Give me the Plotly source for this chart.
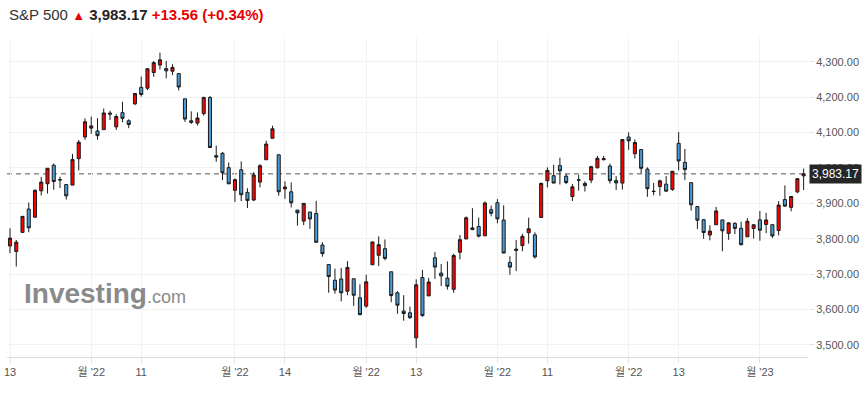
import plotly.graph_objects as go

# ---------------- data (S&P 500 daily) ----------------
dates = (
    ["2022-07-%02d" % d for d in [13, 14, 15, 18, 19, 20, 21, 22, 25, 26, 27, 28, 29]]
    + ["2022-08-%02d" % d for d in [1, 2, 3, 4, 5, 8, 9, 10, 11, 12, 15, 16, 17, 18, 19, 22, 23, 24, 25, 26, 29, 30, 31]]
    + ["2022-09-%02d" % d for d in [1, 2, 6, 7, 8, 9, 12, 13, 14, 15, 16, 19, 20, 21, 22, 23, 26, 27, 28, 29, 30]]
    + ["2022-10-%02d" % d for d in [3, 4, 5, 6, 7, 10, 11, 12, 13, 14, 17, 18, 19, 20, 21, 24, 25, 26, 27, 28, 31]]
    + ["2022-11-%02d" % d for d in [1, 2, 3, 4, 7, 8, 9, 10, 11, 14, 15, 16, 17, 18, 21, 22, 23, 25, 28, 29, 30]]
    + ["2022-12-%02d" % d for d in [1, 2, 5, 6, 7, 8, 9, 12, 13, 14, 15, 16, 19, 20, 21, 22, 23, 27, 28, 29, 30]]
    + ["2023-01-%02d" % d for d in [3, 4, 5, 6, 9, 10, 11, 12]]
)

opens = [
    3779.67, 3763.99, 3818.00, 3883.79, 3860.73, 3935.32, 3955.47, 4007.66, 3965.72, 3953.22, 3951.43, 4026.13, 4087.33,
    4112.38, 4104.21, 4107.96, 4154.85, 4115.87, 4155.93, 4133.11, 4181.02, 4227.40, 4225.02, 4269.37, 4290.46, 4280.40,
    4273.13, 4266.31, 4195.08, 4133.09, 4126.55, 4153.26, 4198.74, 4034.58, 4041.25, 4000.67,
    3936.73, 3994.66, 3930.89, 3909.43, 3959.94, 4022.94, 4083.67, 4037.12, 3940.73, 3932.41, 3880.95, 3849.91, 3875.23,
    3871.40, 3782.36, 3727.14, 3682.72, 3686.44, 3651.94, 3687.01, 3633.48,
    3609.78, 3726.46, 3753.25, 3771.97, 3706.74, 3647.51, 3595.86, 3590.83, 3520.37, 3690.41, 3638.65, 3746.26, 3703.11,
    3689.05, 3657.10, 3762.01, 3799.44, 3825.97, 3834.69, 3808.26, 3881.85,
    3901.79, 3852.90, 3733.25, 3766.98, 3780.71, 3817.02, 3810.94, 3859.89, 3963.72, 3977.97, 4006.41, 3976.82, 3919.26,
    3966.39, 3956.23, 3965.51, 4000.30, 4023.34, 4005.36, 3964.19, 3957.18,
    4087.14, 4040.17, 4052.02, 3996.63, 3933.28, 3947.79, 3954.17, 3939.29, 4069.38, 4015.54, 3958.37, 3890.91, 3853.79,
    3810.47, 3839.49, 3853.26, 3815.11, 3843.34, 3829.56, 3805.45, 3829.06,
    3853.29, 3840.36, 3839.74, 3823.37, 3910.82, 3888.57, 3932.35, 3977.57,
]

highs = [
    3829.44, 3796.41, 3863.62, 3902.44, 3939.81, 3974.13, 3999.29, 4012.44, 3975.30, 3953.22, 4039.56, 4078.95, 4140.15,
    4144.95, 4140.47, 4167.66, 4161.29, 4151.58, 4186.62, 4137.30, 4211.03, 4257.91, 4280.47, 4301.79, 4325.28, 4302.18,
    4292.53, 4266.31, 4195.08, 4159.77, 4156.56, 4200.54, 4203.04, 4062.99, 4044.98, 4015.37,
    3970.23, 4018.43, 3942.55, 3987.89, 4010.50, 4076.81, 4119.28, 4037.12, 3961.94, 3959.14, 3880.95, 3900.45, 3876.01,
    3907.07, 3790.20, 3727.14, 3715.67, 3717.53, 3736.74, 3687.01, 3671.44,
    3698.35, 3791.92, 3806.91, 3797.93, 3706.74, 3652.17, 3640.66, 3608.34, 3685.41, 3712.00, 3689.73, 3762.79, 3728.58,
    3736.00, 3757.89, 3810.74, 3862.85, 3886.15, 3859.95, 3905.42, 3893.73,
    3911.79, 3894.44, 3750.59, 3796.34, 3813.95, 3859.40, 3818.20, 3958.33, 4001.48, 4008.97, 4028.84, 3983.09, 3954.33,
    3979.89, 3962.00, 4005.88, 4033.78, 4034.02, 4012.27, 3976.77, 4080.11,
    4100.51, 4080.48, 4052.45, 4001.51, 3957.57, 3966.65, 3977.02, 3990.71, 4100.96, 4053.76, 3958.37, 3890.91, 3854.86,
    3838.24, 3889.82, 3853.26, 3845.80, 3846.65, 3848.32, 3858.19, 3839.85,
    3878.46, 3873.16, 3839.74, 3906.19, 3950.57, 3919.83, 3970.07, 3997.76,
]

lows = [
    3759.07, 3721.56, 3817.18, 3818.63, 3860.73, 3922.03, 3927.64, 3938.24, 3943.46, 3910.74, 3951.43, 3992.97, 4079.22,
    4096.02, 4079.81, 4107.96, 4135.42, 4107.31, 4128.97, 4112.09, 4177.26, 4201.41, 4219.78, 4256.90, 4277.77, 4253.08,
    4261.98, 4218.70, 4129.86, 4124.03, 4119.97, 4147.59, 4057.66, 4017.42, 3965.21, 3954.53,
    3903.65, 3906.21, 3886.75, 3906.03, 3944.81, 4022.94, 4083.67, 3921.35, 3912.73, 3888.28, 3837.08, 3838.50, 3827.54,
    3789.49, 3749.45, 3647.47, 3644.76, 3623.29, 3640.61, 3610.40, 3584.13,
    3604.93, 3726.46, 3722.66, 3739.22, 3620.73, 3588.10, 3568.45, 3573.86, 3491.58, 3579.68, 3638.65, 3686.53, 3666.51,
    3656.44, 3647.42, 3741.65, 3799.44, 3824.07, 3803.79, 3808.26, 3863.18,
    3843.80, 3758.68, 3698.15, 3708.84, 3764.70, 3786.28, 3744.22, 3859.89, 3944.82, 3956.40, 3953.17, 3954.34, 3906.54,
    3935.98, 3933.34, 3956.88, 3998.66, 4020.76, 3955.77, 3937.65, 3938.58,
    4050.87, 4026.63, 3984.49, 3918.39, 3922.68, 3921.21, 3933.04, 3935.30, 3993.03, 3965.65, 3879.45, 3827.91, 3800.04,
    3795.62, 3839.49, 3764.49, 3797.01, 3813.22, 3780.78, 3805.45, 3800.34,
    3794.33, 3815.77, 3802.42, 3809.56, 3890.42, 3877.29, 3928.54, 3937.56,
]

closes = [
    3801.78, 3790.38, 3863.16, 3830.85, 3936.69, 3959.90, 3998.95, 3961.63, 3966.84, 3921.05, 4023.61, 4072.43, 4130.29,
    4118.63, 4091.19, 4155.17, 4151.94, 4145.19, 4140.06, 4122.47, 4210.24, 4207.27, 4280.15, 4297.14, 4305.20, 4274.04,
    4283.74, 4228.48, 4137.99, 4128.73, 4140.77, 4199.12, 4057.66, 4030.61, 3986.16, 3955.00,
    3966.85, 3924.26, 3908.19, 3979.87, 4006.18, 4067.36, 4110.41, 3932.69, 3946.01, 3901.35, 3873.33, 3899.89, 3855.93,
    3789.93, 3757.99, 3693.23, 3655.04, 3647.29, 3719.04, 3640.47, 3585.62,
    3678.43, 3790.93, 3783.28, 3744.52, 3639.66, 3612.39, 3588.84, 3577.03, 3669.91, 3583.07, 3677.95, 3719.98, 3695.16,
    3665.78, 3752.75, 3797.34, 3859.11, 3830.60, 3807.30, 3901.06, 3871.98,
    3856.10, 3759.69, 3719.89, 3770.55, 3806.80, 3828.11, 3748.57, 3956.37, 3992.93, 3957.25, 3991.73, 3958.79, 3946.56,
    3965.34, 3949.94, 4003.58, 4027.26, 4026.12, 3963.94, 3957.63, 4080.11,
    4076.57, 4071.70, 3998.84, 3941.26, 3933.92, 3963.51, 3934.38, 3990.56, 4019.65, 3995.32, 3895.75, 3852.36, 3817.66,
    3821.62, 3878.44, 3822.39, 3844.82, 3829.25, 3783.22, 3849.28, 3839.50,
    3824.14, 3852.97, 3808.10, 3895.08, 3892.09, 3919.25, 3969.61, 3983.17,
]

tick_dates = ["2022-07-13", "2022-08-01", "2022-08-11", "2022-09-01", "2022-09-14", "2022-10-03",
              "2022-10-13", "2022-11-01", "2022-11-11", "2022-12-01", "2022-12-13", "2023-01-03"]
tick_labels = ["13", "월 '22", "11", "월 '22", "14", "월 '22", "13", "월 '22", "11", "월 '22", "13", "월 '23"]
y_ticks = [3500, 3600, 3700, 3800, 3900, 4000, 4100, 4200, 4300]

title_name = "S&P 500"
last_price = 3983.17
change = "+13.56"
change_pct = "(+0.34%)"

# ---------------- figure ----------------
x = list(range(len(dates)))
tickvals = [dates.index(d) for d in tick_dates]

UP = "#ff0000"
DOWN = "#4a9bd5"
EDGE = "#1a1a1a"
AX_FONT = dict(family="Liberation Sans, Arial, Noto Sans CJK KR, sans-serif", size=11, color="#555555")

fig = go.Figure(
    go.Candlestick(
        x=x, open=opens, high=highs, low=lows, close=closes,
        increasing=dict(line=dict(color=EDGE, width=1), fillcolor=UP),
        decreasing=dict(line=dict(color=EDGE, width=1), fillcolor=DOWN),
        whiskerwidth=0,
        hoverinfo="skip",
    )
)

fig.update_layout(
    width=866, height=396,
    margin=dict(l=7, r=58, t=38, b=39, autoexpand=False),
    paper_bgcolor="white", plot_bgcolor="white",
    showlegend=False,
    xaxis=dict(
        range=[-0.48, 127.7],
        rangeslider=dict(visible=False),
        tickmode="array", tickvals=tickvals, ticktext=tick_labels,
        showgrid=True, gridcolor="#f2f2f2", gridwidth=1,
        showline=True, linecolor="#dcdcdc", linewidth=1,
        ticks="outside", ticklen=5, tickcolor="#e2e2e2",
        tickfont=AX_FONT, zeroline=False, automargin=False,
    ),
    yaxis=dict(
        side="right",
        range=[3466.1, 4366.8],
        tickmode="array", tickvals=y_ticks, tickformat=",.2f",
        showgrid=True, gridcolor="#f2f2f2", gridwidth=1,
        showline=False, zeroline=False,
        ticks="outside", ticklen=5, tickcolor="#e2e2e2",
        tickfont=AX_FONT, automargin=False,
    ),
)

# last price dashed line
fig.add_shape(type="line", xref="paper", x0=0, x1=1, yref="y", y0=last_price, y1=last_price,
              line=dict(color="#555555", width=1, dash="5px,4px"), layer="below")

# last price label box
fig.add_annotation(xref="paper", x=1, xanchor="left", xshift=1, yref="y", y=last_price, yanchor="middle",
                   text=f"{last_price:,.2f}", showarrow=False, bgcolor="#262626", borderpad=2,
                   font=dict(family="Liberation Sans, Arial, sans-serif", size=12, color="white"))

# header
header = (
    f"<span style='color:#333333'>{title_name}</span> "
    f"<span style='color:#e60000;font-size:13px'>▲</span> "
    f"<b>{last_price:,.2f}</b> "
    f"<b><span style='color:#e60000'>{change}</span></b> "
    f"<b><span style='color:#e60000'>{change_pct}</span></b>"
)
fig.add_annotation(xref="paper", x=0, xanchor="left", xshift=0, yref="paper", y=1, yanchor="middle", yshift=24,
                   text=header, showarrow=False,
                   font=dict(family="Liberation Sans, Arial, sans-serif", size=15, color="#222222"))

# watermark
fig.add_annotation(xref="paper", x=0.0187, xanchor="left", yref="paper", y=0.2, yanchor="middle",
                   text="<b>Investing</b><span style='font-size:18px'>.com</span>", showarrow=False,
                   font=dict(family="Liberation Sans, Arial, sans-serif", size=28, color="#8a8a8a"))

fig.write_html("out.html", config={"displayModeBar": False},
               post_script="document.body.style.margin='0px';")
